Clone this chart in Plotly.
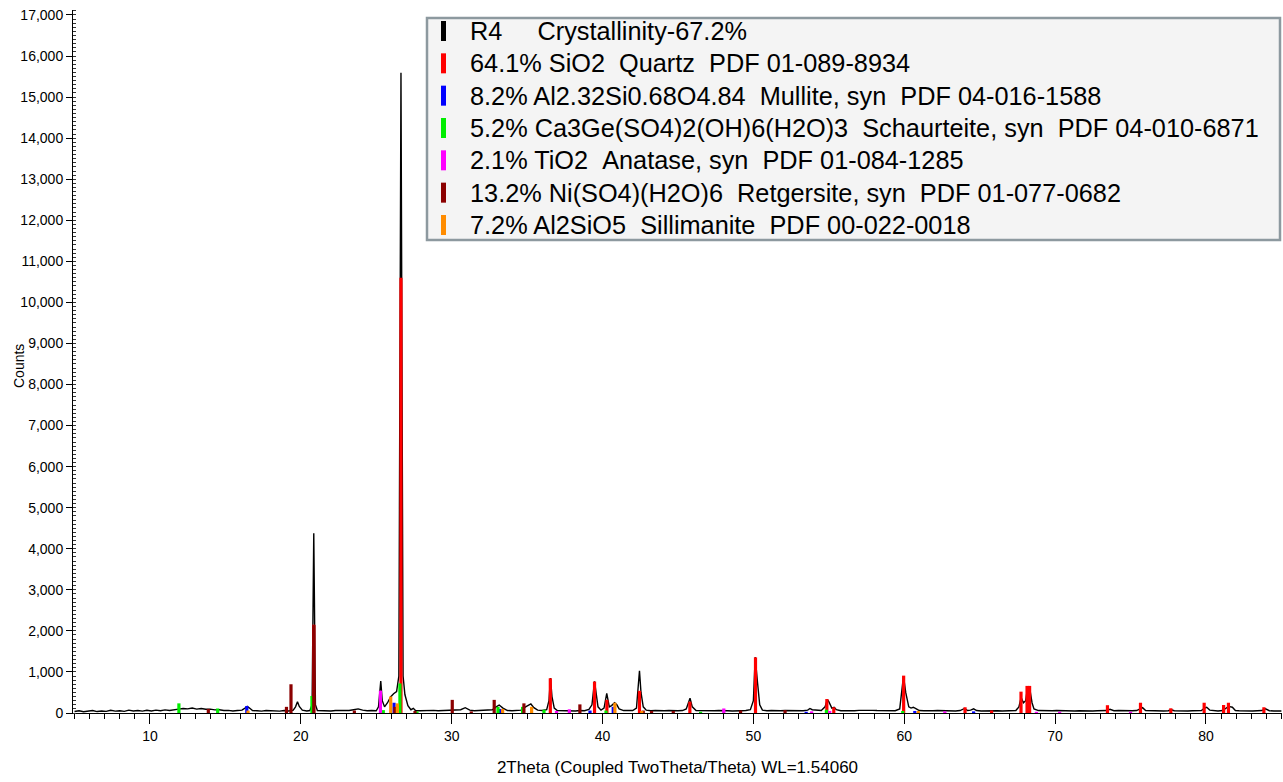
import plotly.graph_objects as go

# ---------------- data ----------------
# measured pattern (2theta, counts)
meas_x = [5.0, 5.3, 5.6, 5.9, 6.2, 6.5, 6.8, 7.1, 7.4, 7.7, 8.0, 8.3, 8.6, 8.9, 9.2, 9.5, 9.8, 10.1, 10.4, 10.7,
          11.0, 11.3, 11.6, 11.9, 12.2, 12.5, 12.8, 13.1, 13.4, 13.7, 14.0, 14.3, 14.6, 14.9, 15.2, 15.5, 15.8, 16.1,
          16.3, 16.45, 16.6, 16.8, 17.1, 17.4, 17.7, 18.0, 18.3, 18.6, 18.9, 19.2, 19.5, 19.65, 19.78, 19.9, 20.1,
          20.4, 20.6, 20.75, 20.86, 20.97, 21.1, 21.4, 21.7, 22.0, 22.3, 22.6, 22.9, 23.2, 23.5, 23.8, 24.1, 24.4,
          24.7, 25.0, 25.15, 25.3, 25.4, 25.55, 25.75, 25.95, 26.15, 26.35, 26.5, 26.64, 26.78, 26.9, 27.1, 27.3,
          27.46, 27.6, 27.9, 28.2, 28.5, 28.8, 29.1, 29.4, 29.7, 30.0, 30.3, 30.6, 30.9, 31.2, 31.5, 31.8, 32.1,
          32.4, 32.7, 32.95, 33.15, 33.4, 33.7, 34.0, 34.3, 34.6, 34.9, 35.1, 35.25, 35.45, 35.7, 36.0, 36.3, 36.45,
          36.55, 36.65, 36.8, 37.0, 37.3, 37.6, 37.9, 38.2, 38.5, 38.8, 39.1, 39.3, 39.47, 39.55, 39.7, 39.9, 40.1,
          40.28, 40.45, 40.6, 40.8, 40.95, 41.1, 41.4, 41.7, 42.0, 42.25, 42.45, 42.55, 42.7, 42.9, 43.2, 43.5, 43.8,
          44.1, 44.4, 44.7, 45.0, 45.3, 45.55, 45.8, 45.95, 46.2, 46.5, 46.8, 47.1, 47.4, 47.7, 48.0, 48.3, 48.6,
          48.9, 49.2, 49.5, 49.8, 50.0, 50.12, 50.28, 50.42, 50.6, 50.9, 51.2, 51.5, 51.8, 52.1, 52.4, 52.7, 53.0,
          53.3, 53.6, 53.75, 53.9, 54.2, 54.5, 54.75, 54.9, 55.0, 55.2, 55.35, 55.5, 55.8, 56.1, 56.4, 56.7, 57.0,
          57.3, 57.6, 57.9, 58.2, 58.5, 58.8, 59.1, 59.4, 59.7, 59.95, 60.1, 60.3, 60.45, 60.6, 60.8, 61.0, 61.3,
          61.6, 61.9, 62.2, 62.5, 62.8, 63.1, 63.4, 63.7, 64.0, 64.2, 64.4, 64.6, 64.8, 65.1, 65.4, 65.7, 65.9,
          66.2, 66.5, 66.8, 67.1, 67.4, 67.6, 67.75, 67.9, 68.05, 68.18, 68.3, 68.47, 68.6, 68.9, 69.2, 69.5, 69.8,
          70.1, 70.4, 70.7, 71.0, 71.3, 71.6, 71.9, 72.2, 72.5, 72.8, 73.1, 73.4, 73.64, 73.9, 74.2, 74.5, 74.8,
          75.1, 75.4, 75.65, 75.8, 76.0, 76.3, 76.6, 76.9, 77.2, 77.5, 77.7, 77.9, 78.2, 78.5, 78.8, 79.1, 79.4,
          79.7, 79.9, 80.05, 80.25, 80.5, 80.8, 81.1, 81.3, 81.5, 81.75, 81.95, 82.2, 82.5, 82.8, 83.1, 83.4, 83.7,
          83.95, 84.2, 84.5, 84.8, 85.0]
meas_y = [35, 55, 30, 45, 60, 35, 50, 40, 65, 45, 55, 40, 70, 50, 60, 45, 65, 50, 70, 55,
          75, 60, 85, 95, 110, 100, 120, 95, 110, 90, 95, 75, 80, 60, 65, 50, 60, 70,
          120, 160, 120, 60, 55, 45, 60, 50, 55, 45, 60, 50, 70, 150, 275, 160, 70,
          50, 60, 200, 4380, 200, 60, 55, 65, 50, 60, 55, 50, 60, 80, 100, 70, 55,
          60, 55, 150, 780, 300, 150, 250, 390, 470, 520, 900, 15590, 900, 450, 180, 80,
          115, 60, 55, 60, 50, 65, 55, 60, 50, 55, 60, 80, 130, 70, 55, 60, 55,
          65, 80, 150, 195, 120, 60, 55, 60, 70, 150, 200, 220, 130, 70, 60, 80, 300,
          850, 400, 120, 60, 55, 60, 55, 50, 60, 55, 90, 200, 770, 500, 150, 70, 120,
          480, 150, 180, 250, 200, 100, 60, 55, 60, 120, 1030, 500, 150, 70, 55, 60, 50,
          55, 60, 50, 55, 60, 100, 360, 150, 60, 55, 60, 50, 55, 60, 65, 55, 50,
          60, 55, 60, 80, 300, 1360, 720, 200, 70, 55, 60, 50, 55, 60, 55, 50, 60,
          55, 70, 110, 80, 70, 60, 150, 330, 275, 120, 140, 80, 55, 50, 60, 55, 65,
          70, 75, 65, 60, 55, 50, 60, 55, 100, 900, 495, 150, 120, 140, 100, 60, 55,
          50, 55, 60, 55, 50, 55, 50, 60, 110, 60, 70, 100, 60, 50, 55, 50, 60,
          55, 50, 55, 50, 60, 150, 380, 250, 300, 640, 640, 250, 100, 60, 55, 50, 55,
          60, 55, 65, 60, 50, 55, 50, 55, 50, 55, 50, 60, 90, 55, 60, 55, 50,
          55, 60, 100, 130, 60, 55, 50, 55, 50, 55, 80, 55, 50, 55, 50, 55, 50,
          60, 120, 140, 70, 55, 50, 60, 120, 160, 140, 60, 55, 50, 55, 50, 55, 60,
          100, 55, 50, 55, 50]

# reference phase stick patterns
quartz_x = [20.86, 26.64, 36.54, 39.47, 40.29, 42.45, 45.79, 50.14, 54.87, 55.33, 59.96, 64.03, 65.79,
            67.74, 68.14, 68.31, 73.47, 75.66, 77.67, 79.88, 81.17, 81.49, 83.84]
quartz_y = [2150, 10600, 845, 765, 320, 540, 275, 1355, 340, 140, 910, 140, 60,
            520, 660, 660, 190, 250, 115, 250, 195, 250, 140]
mullite_x = [16.42, 26.18, 33.2, 39.17, 40.71, 53.5, 60.7, 64.6]
mullite_y = [170, 250, 100, 60, 150, 30, 50, 40]
schaur_x = [11.92, 14.49, 20.74, 25.47, 26.57, 27.7, 33.07, 34.7, 36.12, 40.23, 46.5, 54.84, 59.9]
schaur_y = [235, 110, 415, 70, 720, 40, 150, 150, 80, 60, 30, 80, 50]
anatase_x = [25.28, 36.95, 37.8, 48.04, 53.86, 55.06, 62.69, 68.76, 70.3, 75.0]
anatase_y = [545, 50, 90, 110, 40, 50, 40, 30, 30, 30]
retg_x = [13.87, 19.05, 19.35, 20.86, 23.55, 26.24, 27.57, 30.04, 31.3, 32.82, 34.79, 38.5, 42.7, 43.25,
          44.69, 49.15, 52.1]
retg_y = [100, 150, 700, 2140, 60, 150, 50, 320, 40, 320, 235, 210, 60, 50, 50, 60, 70]
sill_x = [16.5, 25.96, 26.4, 33.38, 35.3, 40.82, 42.6, 60.93]
sill_y = [60, 400, 235, 100, 150, 250, 50, 50]

legend_labels = [
    "R4\u00a0\u00a0\u00a0\u00a0\u00a0Crystallinity-67.2%",
    "64.1% SiO2\u00a0\u00a0Quartz\u00a0\u00a0PDF 01-089-8934",
    "8.2% Al2.32Si0.68O4.84\u00a0\u00a0Mullite, syn\u00a0\u00a0PDF 04-016-1588",
    "5.2% Ca3Ge(SO4)2(OH)6(H2O)3\u00a0\u00a0Schaurteite, syn\u00a0\u00a0PDF 04-010-6871",
    "2.1% TiO2\u00a0\u00a0Anatase, syn\u00a0\u00a0PDF 01-084-1285",
    "13.2% Ni(SO4)(H2O)6\u00a0\u00a0Retgersite, syn\u00a0\u00a0PDF 01-077-0682",
    "7.2% Al2SiO5\u00a0\u00a0Sillimanite\u00a0\u00a0PDF 00-022-0018",
]
colors = ["#000000", "#ff0000", "#0000ff", "#00ee00", "#ff00ff", "#8b0000", "#ff8c00"]

y_ticks = list(range(0, 17001, 1000))
x_ticks = [10, 20, 30, 40, 50, 60, 70, 80]

# ---------------- figure ----------------
W, H = 1283, 782
L, R, T, B = 73, 1282, 10, 713  # plot area in pixels

def px2x(px):
    return (px - L) / (R - L)

def px2y(py):
    return (B - py) / (B - T)

fig = go.Figure()
fig.add_trace(go.Scatter(x=meas_x, y=meas_y, mode="lines",
                         line=dict(color="#000000", width=1.4), showlegend=False))

phases = [(quartz_x, quartz_y), (mullite_x, mullite_y), (schaur_x, schaur_y),
          (anatase_x, anatase_y), (retg_x, retg_y), (sill_x, sill_y)]
for (px_, py_), col in zip(phases, colors[1:]):
    sx, sy = [], []
    for a, b in zip(px_, py_):
        sx += [a, a, None]
        sy += [0, b, None]
    fig.add_trace(go.Scatter(x=sx, y=sy, mode="lines", line=dict(color=col, width=3.2),
                             showlegend=False, hoverinfo="skip"))

font_family = "Liberation Sans, Arial, sans-serif"

shapes = [dict(type="rect", xref="paper", yref="paper",
               x0=px2x(427), x1=px2x(1280), y0=px2y(240), y1=px2y(18),
               fillcolor="#f4f4f4", line=dict(color="#8d999f", width=2.5), layer="above")]
annotations = []
for i, (lab, col) in enumerate(zip(legend_labels, colors)):
    yc = 31 + 32.33 * i
    shapes.append(dict(type="rect", xref="paper", yref="paper",
                       x0=px2x(441), x1=px2x(446), y0=px2y(yc + 10), y1=px2y(yc - 10),
                       fillcolor=col, line=dict(width=0), layer="above"))
    annotations.append(dict(xref="paper", yref="paper", x=px2x(468), y=px2y(yc),
                            xanchor="left", yanchor="middle", text=lab, showarrow=False,
                            font=dict(family=font_family, size=25.3, color="#000000")))

annotations.append(dict(xref="paper", yref="paper", x=px2x(19), y=px2y(366),
                        xanchor="center", yanchor="middle", text="Counts", textangle=-90,
                        showarrow=False, font=dict(family=font_family, size=14, color="#000000")))

fig.update_layout(
    width=W, height=H,
    margin=dict(l=L, r=W - R, t=T, b=H - B, pad=0),
    paper_bgcolor="white", plot_bgcolor="white",
    shapes=shapes, annotations=annotations,
    font=dict(family=font_family, color="#000000", size=14),
)
fig.update_xaxes(range=[4.9, 85.04], showgrid=False, zeroline=False,
                 showline=True, linecolor="#000000", linewidth=1,
                 tickmode="array", tickvals=x_ticks, ticks="outside", ticklen=10, tickcolor="#000000",
                 tickfont=dict(family=font_family, size=14, color="#000000"),
                 minor=dict(dtick=1, tick0=0, ticks="outside", ticklen=5, tickcolor="#000000"),
                 title=dict(text="2Theta (Coupled TwoTheta/Theta) WL=1.54060",
                            font=dict(family=font_family, size=17), standoff=18))
fig.update_yaxes(range=[0, 17121], showgrid=False, zeroline=False,
                 showline=True, linecolor="#000000", linewidth=1,
                 tickmode="array", tickvals=y_ticks, tickformat=",d",
                 ticks="outside", ticklen=6, tickcolor="#000000",
                 tickfont=dict(family=font_family, size=14, color="#000000"),
                 minor=dict(dtick=100, tick0=0, ticks="inside", ticklen=3, tickcolor="#333333"))

fig.write_html("out.html")
